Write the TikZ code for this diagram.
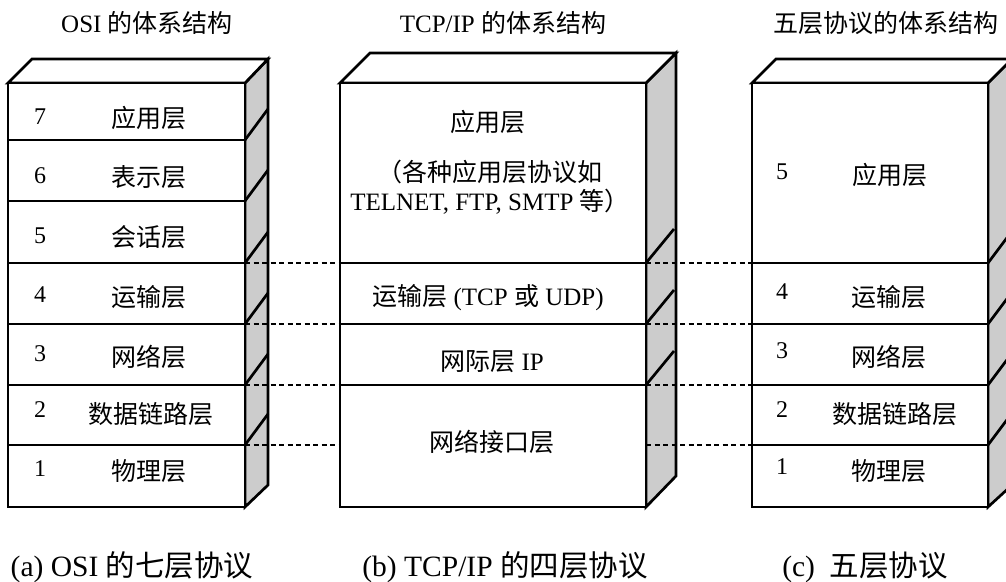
\documentclass[tikz,border=0pt]{standalone}
\usepackage{fontspec}
\setmainfont{Liberation Serif}
\newfontfamily\cjk{Noto Sans CJK SC}
\definecolor{sidegray}{HTML}{CCCCCC}
\tikzset{
  face/.style={draw=black,line width=2.7pt,fill=white,line join=miter},
  sideface/.style={draw=black,line width=2.7pt,fill=sidegray,line join=miter},
  divider/.style={draw=black,line width=2.7pt},
  link/.style={draw=black,line width=1.9pt,dash pattern=on 5pt off 3.5pt},
  lbl/.style={inner sep=0pt,font=\fontsize{25}{29}\selectfont},
  num/.style={inner sep=0pt,font=\fontsize{24}{28}\selectfont},
  ttl/.style={inner sep=0pt,font=\fontsize{25}{29}\selectfont},
  captxt/.style={inner sep=0pt,font=\fontsize{29.5}{33}\selectfont}
}
\begin{document}
\begin{tikzpicture}[x=1pt,y=-1pt]
\useasboundingbox (0,0) rectangle (1006,581);
\clip (0,0) rectangle (1006,581);

% ---------- OSI stack ----------
\draw[sideface] (245,83) -- (268,59) -- (268,485) -- (245,507) -- cycle;
\draw[face] (8,83) -- (32,59) -- (268,59) -- (245,83) -- cycle;
\draw[face] (8,83) rectangle (245,507);
\foreach \y in {140,201,263,324,385,445}{
  \draw[divider] (8,\y) -- (245,\y);
  \draw[divider] (245,\y) -- ++(23,-31);
  \coordinate (osiR\y) at (245,\y);
}

% ---------- TCP/IP stack ----------
\draw[sideface] (646,83) -- (676,53) -- (676,476) -- (646,507) -- cycle;
\draw[face] (340,83) -- (370,53) -- (676,53) -- (646,83) -- cycle;
\draw[face] (340,83) rectangle (646,507);
\foreach \y in {263,324,385}{
  \draw[divider] (340,\y) -- (646,\y);
  \draw[divider] (646,\y) -- ++(28,-34);
}
\foreach \y in {263,324,385,445}{
  \coordinate (tcpL\y) at (340,\y);
  \coordinate (tcpR\y) at (646,\y);
}

% ---------- Five-layer stack ----------
\draw[sideface] (988,83) -- (1012,59) -- (1012,485) -- (988,507) -- cycle;
\draw[face] (752,83) -- (776,59) -- (1012,59) -- (988,83) -- cycle;
\draw[face] (752,83) rectangle (988,507);
\foreach \y in {263,324,385,445}{
  \draw[divider] (752,\y) -- (988,\y);
  \draw[divider] (988,\y) -- ++(24,-32);
  \coordinate (fiveL\y) at (752,\y);
}

% ---------- dashed correspondences ----------
\foreach \y in {263,324,385,445}{
  \draw[link] (osiR\y) -- (tcpL\y);
  \draw[link] (tcpR\y) -- (fiveL\y);
}

% ---------- titles ----------
\node[ttl] (t1) at (147,23) {OSI {\cjk 的体系结构}};
\node[ttl] (t2) at (503,23) {TCP/IP {\cjk 的体系结构}};
\node[ttl] (t3) at (886,23) {\cjk 五层协议的体系结构};

% ---------- OSI labels ----------
\node[num] (o7n) at (40,117) {7};
\node[num] (o6n) at (40,176) {6};
\node[num] (o5n) at (40,236) {5};
\node[num] (o4n) at (40,295) {4};
\node[num] (o3n) at (40,354) {3};
\node[num] (o2n) at (40,410) {2};
\node[num] (o1n) at (40,469) {1};
\node[lbl] (o7) at (149,118) {\cjk 应用层};
\node[lbl] (o6) at (149,177) {\cjk 表示层};
\node[lbl] (o5) at (149,237) {\cjk 会话层};
\node[lbl] (o4) at (149,297) {\cjk 运输层};
\node[lbl] (o3) at (149,357) {\cjk 网络层};
\node[lbl] (o2) at (151,414) {\cjk 数据链路层};
\node[lbl] (o1) at (149,471) {\cjk 物理层};

% ---------- TCP/IP labels ----------
\node[lbl] (p4) at (488,122) {\cjk 应用层};
\node[lbl] (p4a) at (490,172) {\cjk （各种应用层协议如};
\node[lbl] (p4b) at (490,202) {TELNET, FTP, SMTP {\cjk 等）}};
\node[lbl] (p3) at (488,298) {{\cjk 运输层} (TCP {\cjk 或} UDP)};
\node[lbl] (p2) at (492,362) {{\cjk 网际层} IP};
\node[lbl] (p1) at (492,442) {\cjk 网络接口层};

% ---------- Five-layer labels ----------
\node[num] (f5n) at (782,172) {5};
\node[num] (f4n) at (782,292) {4};
\node[num] (f3n) at (782,351) {3};
\node[num] (f2n) at (782,410) {2};
\node[num] (f1n) at (782,467) {1};
\node[lbl] (f5) at (890,175) {\cjk 应用层};
\node[lbl] (f4) at (889,297) {\cjk 运输层};
\node[lbl] (f3) at (889,357) {\cjk 网络层};
\node[lbl] (f2) at (895,414) {\cjk 数据链路层};
\node[lbl] (f1) at (889,471) {\cjk 物理层};

% ---------- captions ----------
\node[captxt] (c1) at (132,567) {(a) OSI {\cjk 的七层协议}};
\node[captxt] (c2) at (505,567) {(b) TCP/IP {\cjk 的四层协议}};
\node[captxt] (c3) at (865,567) {(c)~~{\cjk 五层协议}};
\end{tikzpicture}
\end{document}
